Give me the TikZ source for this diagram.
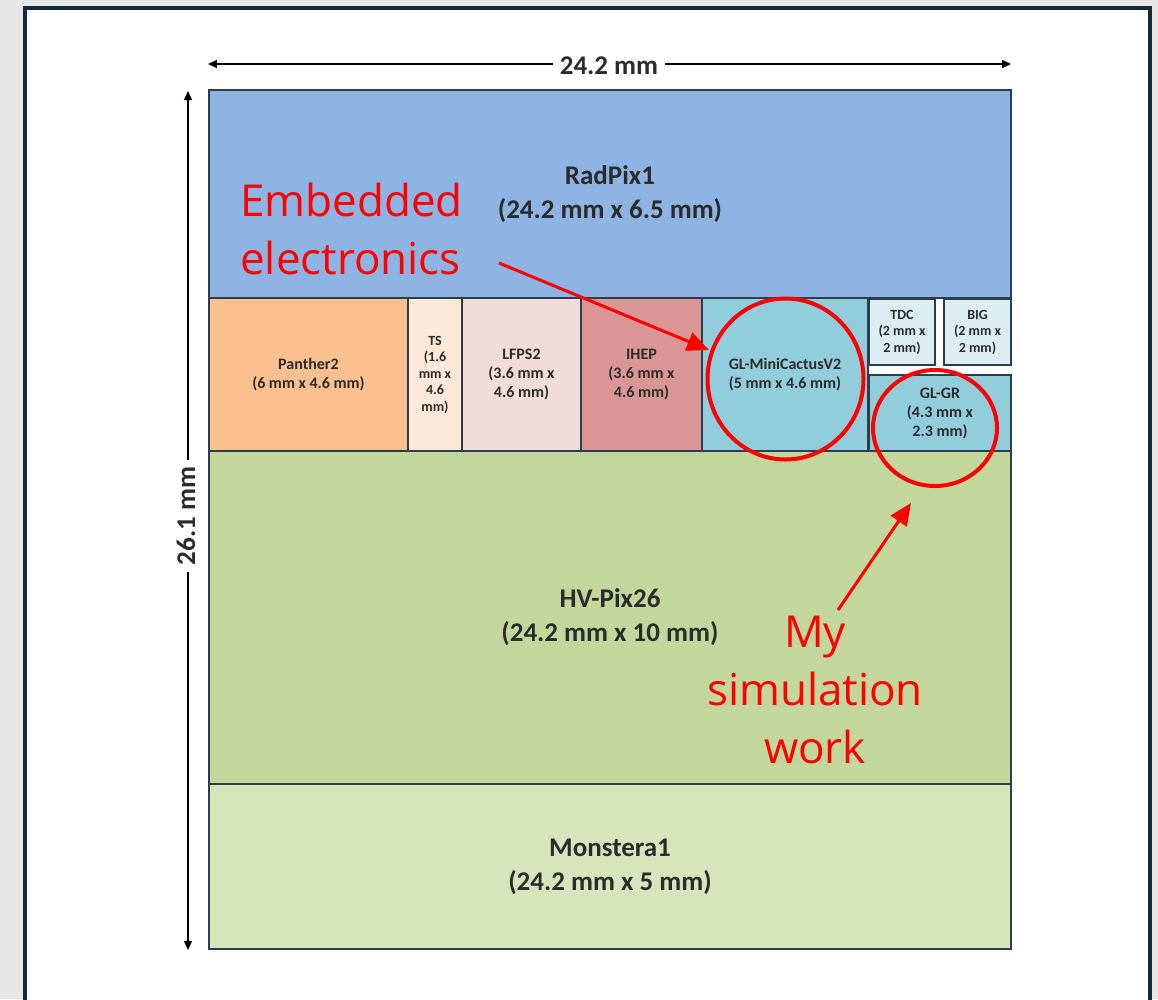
\documentclass[tikz,border=0pt]{standalone}
\usepackage{fontspec}
\setmainfont{Carlito}
\newfontfamily\redfont{Open Sans}
\usetikzlibrary{arrows.meta,shapes.geometric}
\definecolor{bggray}{HTML}{E7E7E7}
\definecolor{panelline}{HTML}{12293D}
\definecolor{boxline}{HTML}{2E3D4C}
\definecolor{labeltext}{HTML}{2B2B2B}
\definecolor{cRad}{HTML}{8EB4E3}
\definecolor{cPan}{HTML}{FAC090}
\definecolor{cTS}{HTML}{FDE9D9}
\definecolor{cLF}{HTML}{F2DCDB}
\definecolor{cIH}{HTML}{D99694}
\definecolor{cGL}{HTML}{92CDDC}
\definecolor{cTDC}{HTML}{DBEEF3}
\definecolor{cHV}{HTML}{C3D69B}
\definecolor{cMon}{HTML}{D7E4BC}
\definecolor{mark}{HTML}{FF0000}
\tikzset{
  chip/.style={draw=boxline, line width=1.6pt, inner sep=0pt, outer sep=0pt,
    anchor=north west, align=center, text=labeltext},
  bigl/.style={font=\fontsize{27}{34}\selectfont\bfseries},
  midl/.style={font=\fontsize{16}{19}\selectfont\bfseries},
  smalll/.style={font=\fontsize{14}{16.5}\selectfont\bfseries},
  dimline/.style={line width=1.4pt, black, {Triangle[length=9pt,width=8pt]}-{Triangle[length=9pt,width=8pt]}},
  dimlabel/.style={fill=white, inner sep=7pt, text=labeltext, font=\fontsize{27}{30}\selectfont\bfseries},
  redtext/.style={text=mark, font=\redfont\fontsize{44}{58}\selectfont, inner sep=0pt},
  redarrow/.style={draw=mark, line width=3pt, -{Triangle[length=22pt,width=19pt]}},
  redring/.style={draw=mark, line width=4pt, ellipse, inner sep=0pt}
}
\begin{document}
\begin{tikzpicture}[x=1pt,y=-1pt]
\useasboundingbox (0,0) rectangle (1158,999);
\fill[bggray] (0,0) rectangle (1158,999);
\draw[panelline, line width=4pt, fill=white] (24.5,7.5) rectangle (1149.5,1020);

% chips
\node[chip, bigl, fill=cRad, minimum width=802pt, minimum height=208pt] (radpix) at (209,90) {RadPix1\\(24.2 mm x 6.5 mm)};
\node[chip, midl, fill=cPan, minimum width=199pt, minimum height=153pt] (panther) at (209,298) {Panther2\\(6 mm x 4.6 mm)};
\node[chip, smalll, fill=cTS, minimum width=54pt, minimum height=153pt] (ts) at (408,298) {TS\\(1.6\\mm x\\4.6\\mm)};
\node[chip, midl, fill=cLF, minimum width=119pt, minimum height=153pt] (lfps) at (462,298) {LFPS2\\(3.6 mm x\\4.6 mm)};
\node[chip, midl, fill=cIH, minimum width=121pt, minimum height=153pt] (ihep) at (581,298) {IHEP\\(3.6 mm x\\4.6 mm)};
\node[chip, midl, fill=cGL, minimum width=166pt, minimum height=153pt] (cactus) at (702,298) {GL-MiniCactusV2\\(5 mm x 4.6 mm)};
\node[chip, smalll, fill=cTDC, minimum width=66pt, minimum height=66pt] (tdc) at (869,299) {TDC\\(2 mm x\\2 mm)};
\node[chip, smalll, fill=cTDC, minimum width=67pt, minimum height=66pt] (big) at (944,299) {BIG\\(2 mm x\\2 mm)};
\node[chip, midl, fill=cGL, minimum width=142pt, minimum height=76pt] (glgr) at (869,375) {GL-GR\\(4.3 mm x\\2.3 mm)};
\node[chip, bigl, fill=cHV, minimum width=802pt, minimum height=333pt] (hvpix) at (209,451) {HV-Pix26\\(24.2 mm x 10 mm)};
\node[chip, bigl, fill=cMon, minimum width=802pt, minimum height=165pt] (monstera) at (209,784) {Monstera1\\(24.2 mm x 5 mm)};

% dimensions
\coordinate (hl) at (208,64);
\coordinate (hr) at (1011,64);
\coordinate (vt) at (188,91);
\coordinate (vb) at (188,950);
\draw[dimline] (hl) -- (hr);
\draw[dimline] (vt) -- (vb);
\node[dimlabel] (wlab) at (609,66) {24.2 mm};
\node[dimlabel, rotate=90] (hlab) at (186,516) {26.1 mm};

% annotations
\node[redring, minimum width=156pt, minimum height=161pt] (ring1) at (785.5,379) {};
\node[redring, minimum width=124pt, minimum height=116pt] (ring2) at (935,428) {};
\node[redtext, anchor=west, align=left] (emb) at (240,229) {Embedded\\electronics};
\node[redtext, align=center] (sim) at (815,690) {My\\simulation\\work};
\coordinate (a1s) at (499,263);
\coordinate (a1e) at (709,350);
\coordinate (a2s) at (838,610);
\coordinate (a2e) at (911,503);
\draw[redarrow] (a1s) -- (a1e);
\draw[redarrow] (a2s) -- (a2e);
\end{tikzpicture}
\end{document}
